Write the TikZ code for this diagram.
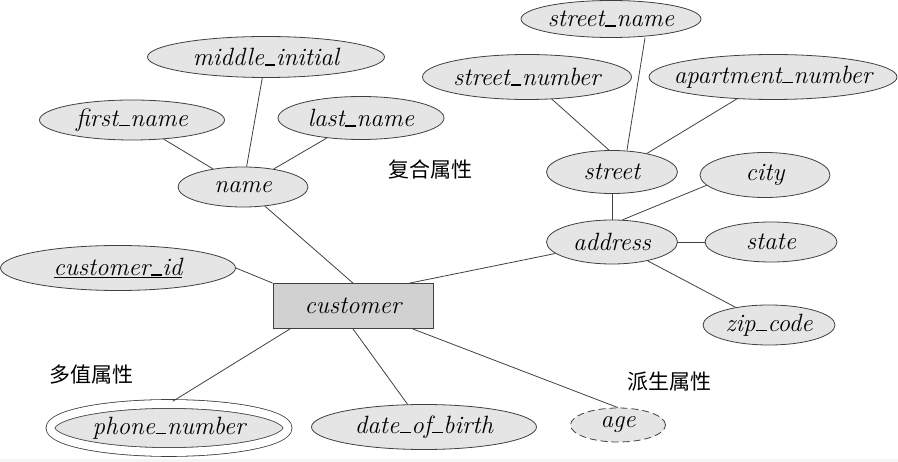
\documentclass[tikz,border=0pt]{standalone}
\usepackage{fontspec}
\usetikzlibrary{shapes.geometric}
\newfontfamily\cjk{Noto Sans CJK SC}
\definecolor{attrgray}{gray}{0.9}
\definecolor{entgray}{gray}{0.82}
\definecolor{linegray}{gray}{0.25}
\newcommand{\usc}{\kern.03em\rule{.42em}{.055em}\kern.03em}

\begin{document}
\begin{tikzpicture}[x = 1pt, y = -1pt,
    attr/.style = {ellipse, draw = linegray, fill = attrgray, line width = .8pt, inner sep = 0pt},
    lbl/.style = {font = \fontsize{25}{28}\selectfont\itshape, inner sep = 0pt},
    note/.style = {font = \fontsize{21}{24}\selectfont\cjk},
    link/.style = {draw = linegray, line width = .8pt}]
  \useasboundingbox (0,0) rectangle (898,462);
  \fill [gray!8] (0,459) rectangle (898,462);

  % entity
  \node [draw = linegray, fill = entgray, line width = .8pt, minimum width = 160pt, minimum height = 45pt, lbl] (customer) at (353,306) {customer};

  % attributes
  \node [attr, minimum width = 180pt, minimum height = 37pt, label = {[lbl]center:street\usc name}] (street_name) at (611,19) {};
  \node [attr, minimum width = 209pt, minimum height = 45pt, label = {[lbl]center:street\usc number}] (street_number) at (527,77) {};
  \node [attr, minimum width = 248pt, minimum height = 45pt, label = {[lbl]center:apartment\usc number}] (apartment_number) at (773,77) {};
  \node [attr, minimum width = 237pt, minimum height = 41pt, label = {[lbl]center:middle\usc initial}] (middle_initial) at (266,57) {};
  \node [attr, minimum width = 185pt, minimum height = 40pt, label = {[lbl]center:first\usc name}] (first_name) at (132,120) {};
  \node [attr, minimum width = 166pt, minimum height = 43pt, label = {[lbl]center:last\usc name}] (last_name) at (361,118) {};
  \node [attr, minimum width = 130pt, minimum height = 40pt, label = {[lbl]center:name}] (name) at (243,187) {};
  \node [attr, minimum width = 131pt, minimum height = 43pt, label = {[lbl]center:street}] (street) at (612,172) {};
  \node [attr, minimum width = 130pt, minimum height = 45pt, label = {[lbl]center:city}] (city) at (765,175) {};
  \node [attr, minimum width = 131pt, minimum height = 44pt, label = {[lbl]center:address}] (address) at (612,242) {};
  \node [attr, minimum width = 132pt, minimum height = 40pt, label = {[lbl]center:state}] (state) at (771,242) {};
  \node [attr, minimum width = 132pt, minimum height = 40pt, label = {[lbl]center:zip\usc code}] (zip_code) at (769,325) {};
  \node [attr, minimum width = 235pt, minimum height = 45pt, label = {[lbl]center:\underline{customer\usc id}}] (customer_id) at (118,268) {};
  \node [attr, double = white, double distance = 8pt, minimum width = 237pt, minimum height = 48pt, label = {[lbl]center:phone\usc number}] (phone_number) at (169,428) {};
  \node [attr, minimum width = 225pt, minimum height = 45pt, label = {[lbl]center:date\usc of\usc birth}] (date_of_birth) at (424,427) {};
  \node [attr, dash pattern = on 7pt off 4pt, minimum width = 95pt, minimum height = 34pt, label = {[lbl]center:age}] (age) at (618,425) {};

  % notes
  \node [note] (composite) at (430,170) {复合属性};
  \node [note] (multivalued) at (91,375) {多值属性};
  \node [note] (derived) at (669,382) {派生属性};

  % links
  \draw [link] (first_name) -- (name);
  \draw [link] (middle_initial) -- (name);
  \draw [link] (last_name) -- (name);
  \draw [link] (name) -- (customer.north);
  \draw [link] (customer_id.east) -- (customer.north west);
  \draw [link] (address) -- (customer.22);
  \draw [link, shorten >= 4.5pt] (customer.200) -- (phone_number.north);
  \draw [link] (customer.south) -- (date_of_birth);
  \draw [link] (customer.-21) -- (age.north);
  \draw [link] ([xshift = 34pt]street_name.south) -- ([xshift = 15pt]street.north);
  \draw [link] (street_number) -- ([xshift = -3pt]street.north);
  \draw [link] (apartment_number) -- (street.28);
  \draw [link] (street) -- (address);
  \draw [link] (city.190) -- (address.65);
  \draw [link] (address) -- (state);
  \draw [link] (address) -- (zip_code);
\end{tikzpicture}
\end{document}
